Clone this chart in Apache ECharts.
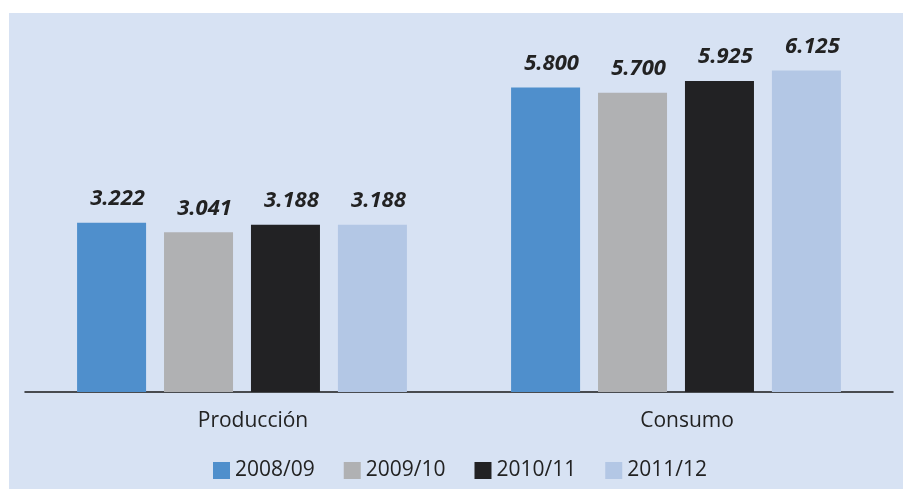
<!DOCTYPE html>
<html><head><meta charset="utf-8">
<script src="https://cdn.jsdelivr.net/npm/echarts@6/dist/echarts.min.js"></script>
<style>html,body{margin:0;padding:0;background:#fff}#c{width:903px;height:489px}</style>
</head><body><div id="c"></div>
<script>
const categories = ['Producción', 'Consumo'];
const seriesNames = ['2008/09', '2009/10', '2010/11', '2011/12'];
const v2008 = [3.222, 5.800];
const v2009 = [3.041, 5.700];
const v2010 = [3.188, 5.925];
const v2011 = [3.188, 6.125];
const allValues = [v2008, v2009, v2010, v2011];
const colors = ['#4f8fcc', '#b0b1b3', '#222224', '#b3c7e5'];

const fmt = v => v.toFixed(3);
const chart = echarts.init(document.getElementById('c'), null, {renderer: 'canvas'});
chart.setOption({
  animation: false,
  backgroundColor: '#ffffff',
  graphic: [{type: 'rect', z: -10, shape: {x: 9, y: 13, width: 894, height: 476}, style: {fill: '#d7e2f3'}}],
  grid: {left: 25, right: 10, top: 24.5, bottom: 97, containLabel: false},
  legend: {
    data: seriesNames, bottom: 3, left: 208, itemWidth: 17, itemHeight: 17, itemGap: 29,
    icon: 'rect',
    textStyle: {fontFamily: 'Open Sans', fontSize: 21, color: '#222'}
  },
  xAxis: {
    type: 'category', data: categories,
    axisLine: {lineStyle: {color: '#1a1a1a', width: 1.5}},
    axisTick: {show: false},
    axisLabel: {fontFamily: 'Open Sans', fontSize: 21, color: '#222', margin: 19, padding: [0, 0, 0, 22]}
  },
  yAxis: {type: 'value', min: 0, max: 7, show: false, splitLine: {show: false}},
  series: allValues.map((vals, i) => ({
    name: seriesNames[i], type: 'bar', data: vals,
    barGap: '26%', barCategoryGap: '24%',
    itemStyle: {color: colors[i]},
    label: {
      show: true, position: 'top', distance: 13, offset: [6, 0],
      formatter: p => fmt(p.value),
      fontFamily: 'Open Sans', fontStyle: 'italic', fontWeight: 'bold', fontSize: 22, color: '#222'
    }
  }))
});
</script></body></html>
